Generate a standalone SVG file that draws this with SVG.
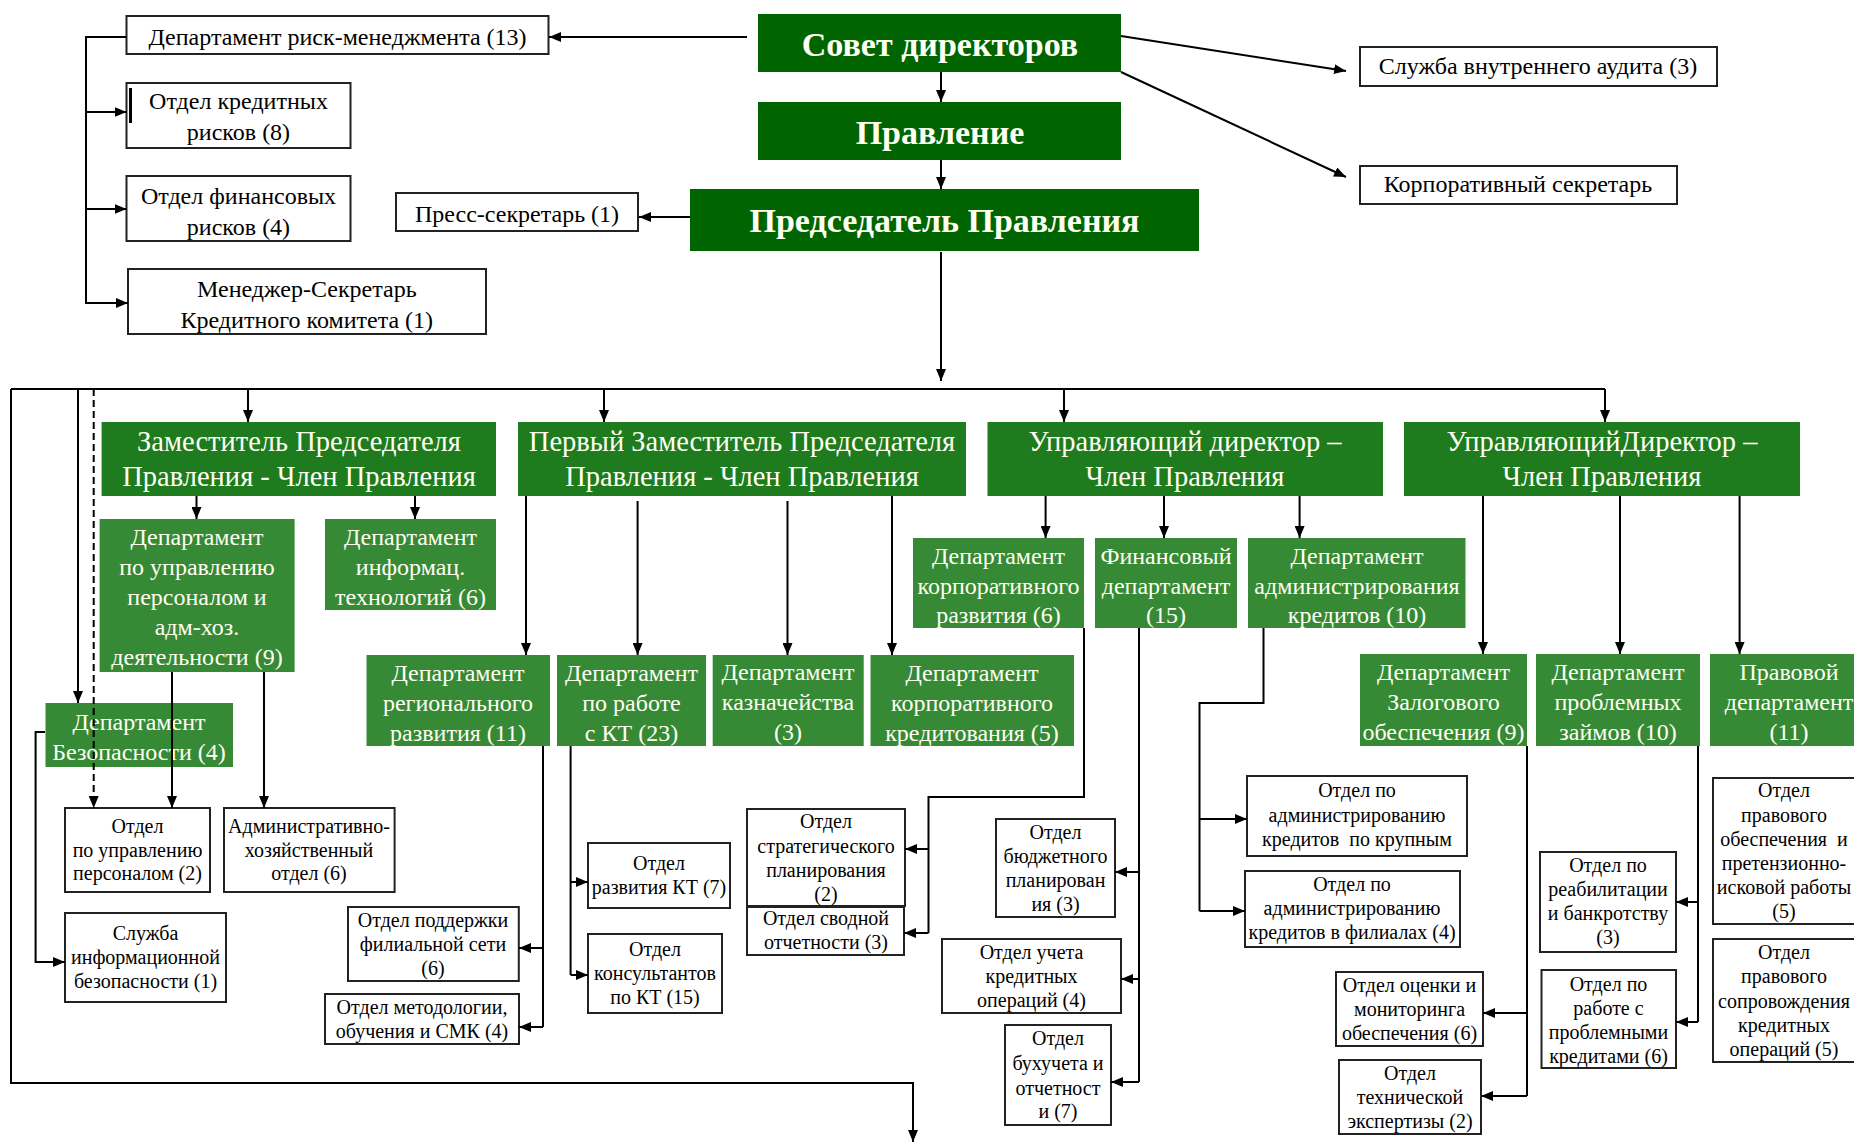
<svg xmlns="http://www.w3.org/2000/svg" width="1854" height="1144" viewBox="0 0 1854 1144">
<style>
text{font-family:"Liberation Serif","Times New Roman",serif;text-anchor:middle}
.pre{white-space:pre}
.wb{fill:#fff;stroke:#222;stroke-width:2}
.g0{fill:#006400}
.g1{fill:#1e7b1e}
.g2{fill:#368a36}
.tb{font-size:34px;font-weight:bold;fill:#fffff2}
.tw{font-size:24px;fill:#000}
.m{font-size:28.5px;fill:#fffff2}
.d{font-size:24px;fill:#fffff2}
.s{font-size:20px;fill:#000}
.c{stroke:#000;stroke-width:2;fill:none}
.a{marker-end:url(#ah)}
.dash{stroke-dasharray:7 4}
</style>
<defs>
<marker id="ah" markerWidth="12" markerHeight="10" refX="12" refY="5" orient="auto" markerUnits="userSpaceOnUse"><path d="M0,0 L12,5 L0,10 z" fill="#000"/></marker>
</defs>
<rect width="1854" height="1144" fill="#fff"/>

<g id="n_sovet"><rect class="g0" x="758" y="14" width="363" height="58"/><text class="tb" x="940" y="56">Совет директоров</text></g>
<g id="n_pravlenie"><rect class="g0" x="758" y="102" width="363" height="58"/><text class="tb" x="940" y="144">Правление</text></g>
<g id="n_predsedatel"><rect class="g0" x="690" y="189" width="509" height="62"/><text class="tb" x="944.5" y="232">Председатель Правления</text></g>
<g id="n_risk"><rect class="wb" x="126.5" y="16" width="422" height="38"/><text class="tw" x="337.5" y="45">Департамент риск-менеджмента (13)</text></g>
<g id="n_kredit"><rect class="wb" x="126.5" y="83" width="224" height="65"/><line x1="130.5" y1="88" x2="130.5" y2="123" stroke="#000" stroke-width="3"/><text class="tw" x="238.5" y="109">Отдел кредитных</text><text class="tw" x="238.5" y="140">рисков (8)</text></g>
<g id="n_fin"><rect class="wb" x="126.5" y="176" width="224" height="65"/><text class="tw" x="238.5" y="204">Отдел финансовых</text><text class="tw" x="238.5" y="235">рисков (4)</text></g>
<g id="n_manager"><rect class="wb" x="128" y="269" width="358" height="65"/><text class="tw" x="306.8" y="297">Менеджер-Секретарь</text><text class="tw" x="306.8" y="328">Кредитного комитета (1)</text></g>
<g id="n_press"><rect class="wb" x="396" y="193" width="242" height="38"/><text class="tw" x="517" y="222">Пресс-секретарь (1)</text></g>
<g id="n_audit"><rect class="wb" x="1360" y="47" width="357" height="39"/><text class="tw" x="1538" y="74">Служба внутреннего аудита (3)</text></g>
<g id="n_corpsec"><rect class="wb" x="1360" y="166" width="317" height="38"/><text class="tw" x="1518" y="192">Корпоративный секретарь</text></g>

<g id="n_zam"><rect class="g1" x="101.6" y="422" width="394.4" height="74"/><text class="m" x="299" y="451">Заместитель Председателя</text><text class="m" x="299" y="486">Правления - Член Правления</text></g>
<g id="n_first"><rect class="g1" x="518" y="422" width="448" height="74"/><text class="m" x="742" y="451">Первый Заместитель Председателя</text><text class="m" x="742" y="486">Правления - Член Правления</text></g>
<g id="n_ud1"><rect class="g1" x="987.5" y="422" width="395.5" height="74"/><text class="m" x="1185" y="451">Управляющий директор –</text><text class="m" x="1185" y="486">Член Правления</text></g>
<g id="n_ud2"><rect class="g1" x="1404" y="422" width="396" height="74"/><text class="m" x="1602" y="451">УправляющийДиректор –</text><text class="m" x="1602" y="486">Член Правления</text></g>

<g id="n_hr"><rect class="g2" x="99.6" y="519" width="195" height="153"/><text class="d" x="197" y="545">Департамент</text><text class="d" x="197" y="575">по управлению</text><text class="d" x="197" y="605">персоналом и</text><text class="d" x="197" y="635">адм-хоз.</text><text class="d" x="197" y="665">деятельности (9)</text></g>
<g id="n_it"><rect class="g2" x="325" y="519" width="171" height="91"/><text class="d" x="410.5" y="545">Департамент</text><text class="d" x="410.5" y="575">информац.</text><text class="d" x="410.5" y="605">технологий (6)</text></g>
<g id="n_sec"><rect class="g2" x="45.5" y="703" width="187.5" height="64"/><text class="d" x="139" y="730">Департамент</text><text class="d" x="139" y="760">Безопасности (4)</text></g>
<g id="n_reg"><rect class="g2" x="366.5" y="655" width="183.5" height="91"/><text class="d" x="458" y="681">Департамент</text><text class="d" x="458" y="711">регионального</text><text class="d" x="458" y="741">развития (11)</text></g>
<g id="n_kt"><rect class="g2" x="557" y="655" width="149" height="91"/><text class="d" x="631.5" y="681">Департамент</text><text class="d" x="631.5" y="711">по работе</text><text class="d" x="631.5" y="741">с КТ (23)</text></g>
<g id="n_treas"><rect class="g2" x="712.7" y="655" width="151" height="91"/><text class="d" x="788" y="680">Департамент</text><text class="d" x="788" y="710">казначейства</text><text class="d" x="788" y="740">(3)</text></g>
<g id="n_corpcred"><rect class="g2" x="870.5" y="655" width="203.5" height="91"/><text class="d" x="972" y="681">Департамент</text><text class="d" x="972" y="711">корпоративного</text><text class="d" x="972" y="741">кредитования (5)</text></g>
<g id="n_corpdev"><rect class="g2" x="913" y="538" width="171" height="90"/><text class="d" x="998.5" y="564">Департамент</text><text class="d" x="998.5" y="594">корпоративного</text><text class="d" x="998.5" y="623">развития (6)</text></g>
<g id="n_findep"><rect class="g2" x="1095" y="538" width="142" height="90"/><text class="d" x="1166" y="564">Финансовый</text><text class="d" x="1166" y="594">департамент</text><text class="d" x="1166" y="623">(15)</text></g>
<g id="n_credadm"><rect class="g2" x="1248" y="538" width="217.5" height="90"/><text class="d" x="1357" y="564">Департамент</text><text class="d" x="1357" y="594">администрирования</text><text class="d" x="1357" y="623">кредитов (10)</text></g>
<g id="n_collat"><rect class="g2" x="1360" y="654" width="167" height="92"/><text class="d" x="1443.5" y="680">Департамент</text><text class="d" x="1443.5" y="710">Залогового</text><text class="d" x="1443.5" y="740">обеспечения (9)</text></g>
<g id="n_problem"><rect class="g2" x="1536" y="654" width="164" height="92"/><text class="d" x="1618" y="680">Департамент</text><text class="d" x="1618" y="710">проблемных</text><text class="d" x="1618" y="740">займов (10)</text></g>
<g id="n_legal"><rect class="g2" x="1710" y="654" width="160" height="92"/><text class="d" x="1789" y="680">Правовой</text><text class="d" x="1789" y="710">департамент</text><text class="d" x="1789" y="740">(11)</text></g>

<g id="n_hr_o"><rect class="wb" x="65" y="808" width="145" height="84"/><text class="s" x="137.5" y="833">Отдел</text><text class="s" x="137.5" y="857">по управлению</text><text class="s" x="137.5" y="880">персоналом (2)</text></g>
<g id="n_aho"><rect class="wb" x="224" y="808" width="170.6" height="84"/><text class="s" x="309" y="833">Административно-</text><text class="s" x="309" y="857">хозяйственный</text><text class="s" x="309" y="880">отдел (6)</text></g>
<g id="n_isec"><rect class="wb" x="65" y="913" width="161" height="89"/><text class="s" x="145.5" y="940">Служба</text><text class="s" x="145.5" y="964">информационной</text><text class="s" x="145.5" y="988">безопасности (1)</text></g>
<g id="n_branch"><rect class="wb" x="348" y="907" width="170.8" height="74"/><text class="s" x="433" y="927">Отдел поддержки</text><text class="s" x="433" y="951">филиальной сети</text><text class="s" x="433" y="975">(6)</text></g>
<g id="n_method"><rect class="wb" x="325" y="994" width="194" height="50"/><text class="s" x="422" y="1014">Отдел методологии,</text><text class="s" x="422" y="1038">обучения и СМК (4)</text></g>
<g id="n_ktdev"><rect class="wb" x="588" y="843" width="142" height="65"/><text class="s" x="659" y="870">Отдел</text><text class="s" x="659" y="894">развития КТ (7)</text></g>
<g id="n_cons"><rect class="wb" x="588" y="934" width="134" height="79"/><text class="s" x="655" y="956">Отдел</text><text class="s" x="655" y="980">консультантов</text><text class="s" x="655" y="1004">по КТ (15)</text></g>
<g id="n_strat"><rect class="wb" x="747" y="809" width="158" height="97"/><text class="s" x="826" y="828">Отдел</text><text class="s" x="826" y="853">стратегического</text><text class="s" x="826" y="877">планирования</text><text class="s" x="826" y="901">(2)</text></g>
<g id="n_consol"><rect class="wb" x="747" y="907" width="157" height="48"/><text class="s" x="826" y="925">Отдел сводной</text><text class="s" x="826" y="949">отчетности (3)</text></g>
<g id="n_budget"><rect class="wb" x="996" y="819" width="119" height="98"/><text class="s" x="1055.5" y="839">Отдел</text><text class="s" x="1055.5" y="863">бюджетного</text><text class="s" x="1055.5" y="887">планирован</text><text class="s" x="1055.5" y="911">ия (3)</text></g>
<g id="n_credop"><rect class="wb" x="942" y="939" width="179" height="74"/><text class="s" x="1031.5" y="959">Отдел учета</text><text class="s" x="1031.5" y="983">кредитных</text><text class="s" x="1031.5" y="1007">операций (4)</text></g>
<g id="n_acc"><rect class="wb" x="1005" y="1025" width="106" height="100"/><text class="s" x="1058" y="1045">Отдел</text><text class="s" x="1058" y="1070">бухучета и</text><text class="s" x="1058" y="1095">отчетност</text><text class="s" x="1058" y="1118">и (7)</text></g>
<g id="n_bigcred"><rect class="wb" x="1247" y="776" width="220" height="80"/><text class="s" x="1357" y="797">Отдел по</text><text class="s" x="1357" y="822">администрированию</text><text class="s pre" x="1357" y="846">кредитов  по крупным</text></g>
<g id="n_branchcred"><rect class="wb" x="1245" y="871" width="215" height="76"/><text class="s" x="1352" y="891">Отдел по</text><text class="s" x="1352" y="915">администрированию</text><text class="s" x="1352" y="939">кредитов в филиалах (4)</text></g>
<g id="n_eval"><rect class="wb" x="1336" y="972" width="147" height="74"/><text class="s" x="1409.5" y="992">Отдел оценки и</text><text class="s" x="1409.5" y="1016">мониторинга</text><text class="s" x="1409.5" y="1040">обеспечения (6)</text></g>
<g id="n_tech"><rect class="wb" x="1339" y="1060" width="142" height="74"/><text class="s" x="1410" y="1080">Отдел</text><text class="s" x="1410" y="1104">технической</text><text class="s" x="1410" y="1128">экспертизы (2)</text></g>
<g id="n_rehab"><rect class="wb" x="1540" y="852" width="136" height="100"/><text class="s" x="1608" y="872">Отдел по</text><text class="s" x="1608" y="896">реабилитации</text><text class="s" x="1608" y="920">и банкротству</text><text class="s" x="1608" y="944">(3)</text></g>
<g id="n_problo"><rect class="wb" x="1541.5" y="970" width="134.5" height="98"/><text class="s" x="1608.5" y="991">Отдел по</text><text class="s" x="1608.5" y="1015">работе с</text><text class="s" x="1608.5" y="1039">проблемными</text><text class="s" x="1608.5" y="1063">кредитами (6)</text></g>
<g id="n_legal1"><rect class="wb" x="1713" y="778" width="150" height="146"/><text class="s" x="1784" y="797">Отдел</text><text class="s" x="1784" y="822">правового</text><text class="s pre" x="1784" y="846">обеспечения  и</text><text class="s" x="1784" y="870">претензионно-</text><text class="s" x="1784" y="894">исковой работы</text><text class="s" x="1784" y="918">(5)</text></g>
<g id="n_legal2"><rect class="wb" x="1713" y="939" width="150" height="123"/><text class="s" x="1784" y="959">Отдел</text><text class="s" x="1784" y="983">правового</text><text class="s" x="1784" y="1008">сопровождения</text><text class="s" x="1784" y="1032">кредитных</text><text class="s" x="1784" y="1056">операций (5)</text></g>

<g id="connectors">
<path class="c a" d="M941,72 V102"/>
<path class="c a" d="M941,160 V189"/>
<path class="c a" d="M747,37 H549"/>
<path class="c a" d="M126,37 H86 V303 H128"/>
<path class="c a" d="M86,112 H126.5"/>
<path class="c a" d="M86,209 H126.5"/>
<path class="c a" d="M690,217 H639"/>
<path class="c a" d="M1121,36 L1346,71"/>
<path class="c a" d="M1121,72 L1346,177"/>
<path class="c a" d="M941,252 V381"/>
<path class="c" d="M11,389 H1605"/>
<path class="c a" d="M248,389 V422"/>
<path class="c a" d="M604,389 V422"/>
<path class="c a" d="M1064,389 V422"/>
<path class="c a" d="M1605,389 V422"/>
<path class="c a" d="M78,389 V703"/>
<path class="c a dash" d="M93.7,389 V808"/>
<path class="c a" d="M11,389 V1083 H913 V1142"/>
<path class="c a" d="M196.5,496 V519"/>
<path class="c a" d="M415,496 V519"/>
<path class="c a" d="M172,672 V808"/>
<path class="c a" d="M264,672 V808"/>
<path class="c a" d="M45,732 H35.6 V962 H65"/>
<path class="c a" d="M526,496 V655"/>
<path class="c a" d="M637.6,501 V655"/>
<path class="c a" d="M787.5,501 V655"/>
<path class="c a" d="M892,496 V655"/>
<path class="c" d="M543,746 V1027"/>
<path class="c a" d="M543,948 H519"/>
<path class="c a" d="M543,1027 H519"/>
<path class="c" d="M570.6,746 V975"/>
<path class="c a" d="M570.6,882 H588"/>
<path class="c a" d="M570.6,975 H588"/>
<path class="c a" d="M1045.6,496 V538"/>
<path class="c a" d="M1164,496 V538"/>
<path class="c a" d="M1299.6,496 V538"/>
<path class="c" d="M1084,628 V797 H928.5 V933"/>
<path class="c a" d="M928.5,849 H905"/>
<path class="c a" d="M928.5,933 H904"/>
<path class="c" d="M1139,628 V1082"/>
<path class="c a" d="M1139,872 H1115"/>
<path class="c a" d="M1139,979 H1121"/>
<path class="c a" d="M1139,1082 H1111"/>
<path class="c" d="M1263.5,628 V703 H1199.5 V911"/>
<path class="c a" d="M1199.5,819 H1247"/>
<path class="c a" d="M1199.5,911 H1245"/>
<path class="c a" d="M1483,496 V654"/>
<path class="c a" d="M1620,496 V654"/>
<path class="c a" d="M1739.6,496 V654"/>
<path class="c" d="M1527,746 V1096"/>
<path class="c a" d="M1527,1013 H1483"/>
<path class="c a" d="M1527,1096 H1481"/>
<path class="c" d="M1698,746 V1022"/>
<path class="c a" d="M1698,902 H1676"/>
<path class="c a" d="M1698,1022 H1676"/>
</g>
</svg>
